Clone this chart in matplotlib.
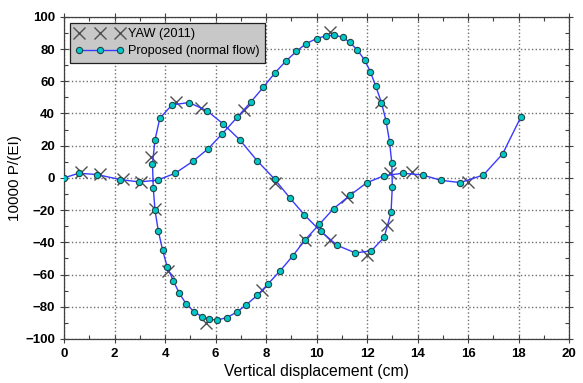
import matplotlib
matplotlib.use("Agg")
import matplotlib.pyplot as plt
from matplotlib.ticker import MultipleLocator

plt.rcParams['font.family'] = ['Liberation Sans', 'DejaVu Sans']

# YAW (2011) reference points
yaw_x = [0.67, 1.43, 2.32, 3.04, 3.44, 3.60, 4.10, 5.61, 7.85, 9.56, 11.21, 12.92,
         13.78, 16.00, 4.43, 5.42, 7.13, 8.34, 10.55, 12.00, 12.79, 12.57, 10.55]
yaw_y = [3.5, 2.3, -0.8, -2.3, 13.2, -19.5, -57.6, -89.9, -69.6, -38.5, -11.6, 2.9,
         3.9, -2.7, 47.4, 43.3, 42.2, -3.3, -38.5, -47.8, -29.2, 47.4, 90.5]

# Proposed (normal flow) path
prop_x = [0.00, 0.57, 1.30, 2.21, 2.98, 3.70, 4.40, 5.09, 5.70, 6.27, 6.86, 7.39, 7.89,
          8.34, 8.77, 9.20, 9.59, 10.00, 10.37, 10.70, 11.03, 11.32, 11.61, 11.90, 12.13,
          12.34, 12.57, 12.75, 12.89, 12.98, 13.00, 12.95, 12.68, 12.17, 11.54, 10.82,
          10.16, 9.52, 8.95, 8.34, 7.65, 6.96, 6.31, 5.65, 4.94, 4.27, 3.79, 3.60, 3.50,
          3.53, 3.60, 3.73, 3.90, 4.08, 4.33, 4.56, 4.83, 5.14, 5.45, 5.74, 6.06, 6.44,
          6.83, 7.21, 7.65, 8.08, 8.55, 9.06, 9.53, 10.11, 10.68, 11.34, 11.98, 12.66,
          13.41, 14.20, 14.93, 15.69, 16.61, 17.37, 18.09]
prop_y = [0.0, 2.9, 2.1, -1.0, -2.5, -1.4, 2.9, 10.2, 18.0, 27.5, 37.7, 47.0, 56.3,
          65.0, 72.3, 78.6, 83.4, 86.5, 88.2, 88.6, 87.4, 84.1, 79.5, 73.3, 66.0,
          57.1, 46.8, 35.5, 22.6, 9.1, -5.6, -21.4, -36.8, -45.3, -46.6, -41.9,
          -33.1, -23.0, -12.6, -0.8, 10.6, 23.6, 33.4, 41.8, 46.8, 45.3, 37.0, 23.6, 8.7,
          -6.0, -20.1, -32.9, -44.7, -55.1, -64.0, -71.6, -78.1, -83.0, -86.1, -87.8, -88.2, -86.8,
          -83.4, -78.9, -72.9, -65.8, -57.8, -48.4, -38.7, -28.8, -19.0, -10.6, -3.1, 1.3,
          2.9, 1.8, -1.5, -2.9, 1.8, 14.9, 37.7]

fig = plt.figure(figsize=(5.83, 3.83), dpi=100)
ax = fig.add_axes([0.110, 0.115, 0.866, 0.841])

ax.plot(yaw_x, yaw_y, linestyle='none', marker='x', markersize=9,
        markeredgewidth=1.0, color='#505050', label='YAW (2011)', zorder=3)
ax.plot(prop_x, prop_y, color='#3a3aff', linewidth=1.0, marker='o', markersize=4.5,
        markerfacecolor='#00c8c8', markeredgecolor='#204545', markeredgewidth=0.8,
        label='Proposed (normal flow)', zorder=4)

ax.set_xlim(0, 20)
ax.set_ylim(-100, 100)
ax.xaxis.set_major_locator(MultipleLocator(2))
ax.xaxis.set_minor_locator(MultipleLocator(1))
ax.yaxis.set_major_locator(MultipleLocator(20))
ax.yaxis.set_minor_locator(MultipleLocator(10))
ax.grid(True, which='major', linestyle=':', color='#707070', linewidth=1.0)
ax.tick_params(which='major', direction='inout', length=6, width=0.8, colors='#404040',
               top=True, right=True, labelsize=9.5)
ax.tick_params(which='minor', direction='in', length=3, width=0.8, colors='#404040',
               top=True, right=True)
for lab in ax.get_xticklabels() + ax.get_yticklabels():
    lab.set_fontweight('bold')
    lab.set_color('black')
for s in ax.spines.values():
    s.set_color('#404040')
    s.set_linewidth(0.9)

ax.set_xlabel('Vertical displacement (cm)', fontsize=11.3, labelpad=3)
ax.set_ylabel('10000 P/(EI)', fontsize=11, labelpad=2)

leg = ax.legend(loc='upper left', bbox_to_anchor=(0.005, 0.992), numpoints=3,
                handlelength=3.8, handletextpad=0.3, fontsize=9.2, fancybox=False,
                framealpha=1, borderpad=0.4, labelspacing=0.4, borderaxespad=0.3)
leg.get_frame().set_facecolor('#c8c8c8')
leg.get_frame().set_edgecolor('#202020')
leg.get_frame().set_linewidth(0.9)

fig.savefig('out.png', dpi=100)
